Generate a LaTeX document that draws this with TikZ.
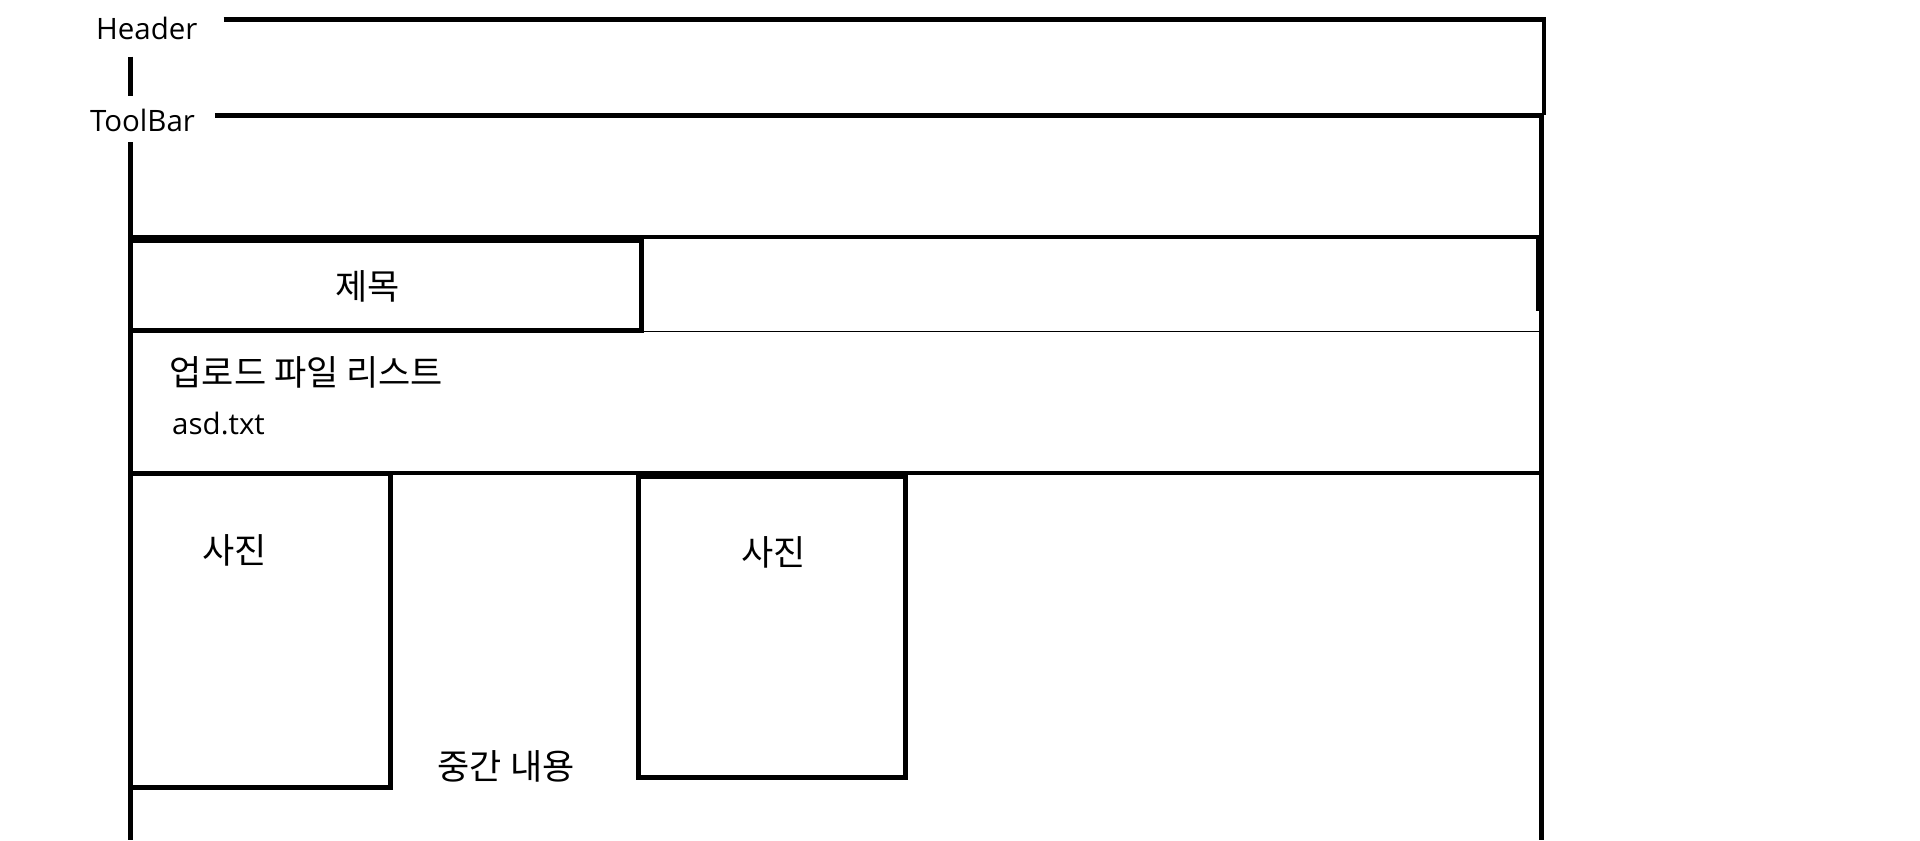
\documentclass[tikz,border=0pt]{standalone}
\usepackage{fontspec}
\setmainfont{Open Sans}
\newfontfamily\kor{Noto Sans CJK KR}
\begin{document}
\begin{tikzpicture}[x=1pt,y=-1pt,
  thick line/.style={line width=3.8pt},
  thin line/.style={line width=1pt},
  lat/.style={inner sep=0pt,font=\fontsize{24}{28}\selectfont},
  ko/.style={inner sep=0pt,font=\kor\fontsize{28.5}{32}\selectfont}]
\useasboundingbox (0,0) rectangle (1563,684);
% header / toolbar
\draw[thick line] (182,16) -- (1257,16) -- (1257,94);
\draw[thick line] (175,94) -- (1257,94);
\draw[thick line] (106,46) -- (106,78);
\draw[thick line] (106,116) -- (106,684);
\draw[thick line] (1255,94) -- (1255,684);
% title row
\draw[thick line] (106,193) -- (1255,193);
\draw[thick line] (106,196) rectangle (522,269);
\draw[thick line] (1252,193) -- (1252,253);
\draw[thin line] (522,270) -- (1255,270);
% file list bottom
\draw[thick line] (106,385) -- (1255,385);
% photo boxes
\draw[thick line] (106,386) rectangle (318,641);
\draw[thick line] (520,388) rectangle (737,633);
% texts
\node[lat] (header) at (119.5,23) {Header};
\node[lat] (toolbar) at (116,98) {ToolBar};
\node[ko] (title) at (299.5,233) {제목};
\node[ko,anchor=west] (upload) at (138,303.5) {업로드 파일 리스트};
\node[lat,anchor=west] (file) at (140,345) {asd.txt};
\node[ko] (photo1) at (191,448) {사진};
\node[ko] (photo2) at (630,450) {사진};
\node[ko] (middle) at (412,624) {중간 내용};
\end{tikzpicture}
\end{document}
